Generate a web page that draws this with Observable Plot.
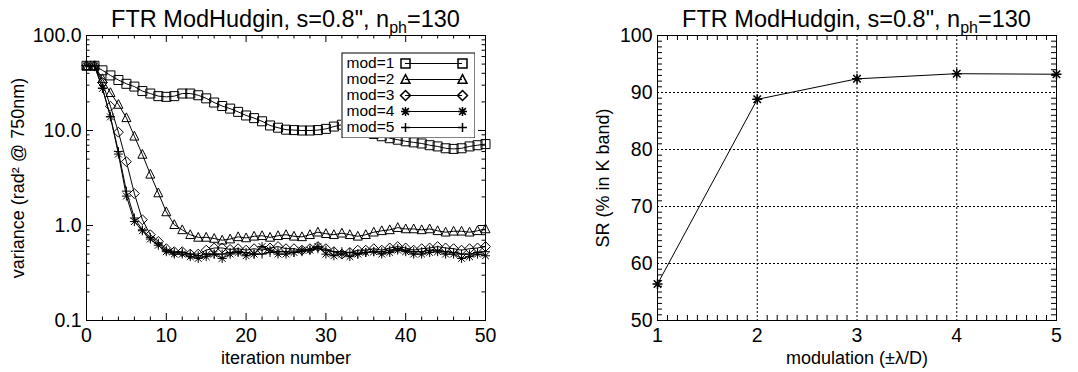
<!DOCTYPE html>
<html><head><meta charset="utf-8">
<script src="https://cdn.jsdelivr.net/npm/d3@7"></script>
<script src="https://cdn.jsdelivr.net/npm/@observablehq/plot@0.6"></script>
<style>
body{margin:0;background:#fff;font-family:"Liberation Sans",Arial,Helvetica,sans-serif;color:#000;}
#wrap{position:relative;width:1078px;height:372px;display:flex;overflow:hidden;}
.panel{position:relative;width:539px;height:372px;}
.panel svg{position:absolute;left:0;top:0;}
.title{position:absolute;top:5px;font-size:23.5px;white-space:nowrap;transform:translateX(-50%);line-height:28px;}
.title sub{font-size:16px;vertical-align:-6px;line-height:0;}
</style></head><body>
<div id="wrap"><div class="panel" id="p1"></div><div class="panel" id="p2"></div></div>
<script>
// ---------- data ----------
const iterations = [0,1,2,3,4,5,6,7,8,9,10,11,12,13,14,15,16,17,18,19,20,21,22,23,24,25,26,27,28,29,30,31,32,33,34,35,36,37,38,39,40,41,42,43,44,45,46,47,48,49,50];
const seriesNames = ["mod=1","mod=2","mod=3","mod=4","mod=5"];
const mod1 = [48,48,43,38,34,31,29,26,24.5,23,22.6,23,24.5,24.5,23.5,21.8,19.7,18.1,17,15.7,14.4,13.5,12.5,11.3,10.7,10.2,10.1,10,10,10.1,10.4,11,11.5,11.2,10.5,9.8,9.2,8.7,8.3,8,7.7,7.5,7.3,7,6.8,6.5,6.4,6.5,6.8,7,7.2];
const mod2 = [48,48,35,25,18.8,13.6,8.7,5.6,3.46,2.2,1.39,1.02,0.9,0.8,0.75,0.75,0.73,0.7,0.72,0.76,0.74,0.77,0.78,0.75,0.78,0.8,0.77,0.76,0.8,0.85,0.82,0.8,0.83,0.8,0.77,0.8,0.85,0.88,0.9,0.95,0.92,0.92,0.9,0.92,0.88,0.85,0.87,0.87,0.85,0.88,0.92];
const mod3 = [48,48,32,18,9.6,4.7,2.17,1.15,0.8,0.68,0.57,0.53,0.53,0.5,0.5,0.55,0.58,0.58,0.56,0.57,0.55,0.57,0.55,0.58,0.6,0.57,0.57,0.55,0.57,0.6,0.57,0.53,0.5,0.52,0.55,0.55,0.57,0.55,0.58,0.6,0.58,0.55,0.57,0.58,0.6,0.58,0.57,0.55,0.57,0.58,0.6];
const mod4 = [48,48,27.7,13.9,5.65,2.04,1.1,0.88,0.72,0.62,0.53,0.5,0.5,0.47,0.45,0.47,0.5,0.45,0.5,0.52,0.48,0.5,0.6,0.55,0.5,0.5,0.52,0.55,0.55,0.6,0.5,0.48,0.5,0.47,0.5,0.52,0.53,0.5,0.52,0.55,0.53,0.5,0.5,0.52,0.53,0.5,0.5,0.45,0.47,0.5,0.48];
const mod5 = [48,48,28,14,6,2.3,1.2,0.9,0.75,0.65,0.55,0.52,0.52,0.5,0.48,0.5,0.5,0.5,0.52,0.53,0.52,0.5,0.5,0.52,0.53,0.53,0.52,0.53,0.55,0.57,0.55,0.53,0.53,0.52,0.5,0.52,0.53,0.53,0.55,0.57,0.55,0.53,0.53,0.55,0.55,0.53,0.52,0.5,0.5,0.52,0.53];
const modulation = [1,2,3,4,5];
const strehl = [56.4,88.8,92.4,93.3,93.2];

const titleHTML = 'FTR ModHudgin, s=0.8", n<sub>ph</sub>=130';
const xLabelL = "iteration number";
const yLabelL = "variance (rad\u00B2 @ 750nm)";
const xLabelR = "modulation (\u00B1\u03BB/D)";
const yLabelR = "SR (% in K band)";

const xMajorL = [0,10,20,30,40,50];
const xMinorL = [2,4,6,8,12,14,16,18,22,24,26,28,32,34,36,38,42,44,46,48];
const yMajorL = [0.1,1,10,100];
const yMajorLabelsL = ["0.1","1.0","10.0","100.0"];
const yMinorL = [0.2,0.3,0.4,0.5,0.6,0.7,0.8,0.9,2,3,4,5,6,7,8,9,20,30,40,50,60,70,80,90];

const xMajorR = [1,2,3,4,5];
const xMinorR = [1.1,1.2,1.3,1.4,1.5,1.6,1.7,1.8,1.9,2.1,2.2,2.3,2.4,2.5,2.6,2.7,2.8,2.9,3.1,3.2,3.3,3.4,3.5,3.6,3.7,3.8,3.9,4.1,4.2,4.3,4.4,4.5,4.6,4.7,4.8,4.9];
const yMajorR = [50,60,70,80,90,100];
const yMinorR = [51,52,53,54,55,56,57,58,59,61,62,63,64,65,66,67,68,69,71,72,73,74,75,76,77,78,79,81,82,83,84,85,86,87,88,89,91,92,93,94,95,96,97,98,99];
const xGridR = [2,3,4];
const yGridR = [60,70,80,90];

// ---------- symbols (IDL-like, hollow) ----------
const rad = s => Math.sqrt(s / Math.PI);
const symSquare = {draw(c, s){const r=rad(s);c.moveTo(-r,-r);c.lineTo(r,-r);c.lineTo(r,r);c.lineTo(-r,r);c.closePath();}};
const symTriangle = {draw(c, s){const r=rad(s);c.moveTo(0,-r*1.1);c.lineTo(r,r*0.85);c.lineTo(-r,r*0.85);c.closePath();}};
const symDiamond = {draw(c, s){const r=rad(s)*1.1;c.moveTo(0,-r);c.lineTo(r,0);c.lineTo(0,r);c.lineTo(-r,0);c.closePath();}};
const symAsterisk = {draw(c, s){const r=rad(s);const d=r*0.75;c.moveTo(0,-r);c.lineTo(0,r);c.moveTo(-r,0);c.lineTo(r,0);c.moveTo(-d,-d);c.lineTo(d,d);c.moveTo(-d,d);c.lineTo(d,-d);}};
const symPlus = {draw(c, s){const r=rad(s);c.moveTo(0,-r);c.lineTo(0,r);c.moveTo(-r,0);c.lineTo(r,0);}};
const symbolsL = [symSquare, symTriangle, symDiamond, symAsterisk, symPlus];

const seriesValues = [mod1, mod2, mod3, mod4, mod5];
const table = seriesNames.flatMap((name, k) => iterations.map((it, i) => ({series: name, k, iter: it, v: seriesValues[k][i]})));
const tableR = modulation.map((m, i) => ({m, sr: strehl[i]}));

const FONT = '"Liberation Sans", Arial, Helvetica, sans-serif';
const baseStyle = {fontFamily: FONT, fontSize: "18px", color: "black", background: "white", overflow: "visible"};
const TICK_FONT = 19.5;
const SYM_R = 4.5;

// ---------- left chart ----------
const WL = 539, HL = 372, mL = {l: 86, r: 54, t: 35, b: 52};
const pwL = WL - mL.l - mL.r, phL = HL - mL.t - mL.b;
const majL = 7, minL = 3.5;
const ymap = new Map(yMajorL.map((d,i) => [d, yMajorLabelsL[i]]));

const left = Plot.plot({
  width: WL, height: HL,
  marginLeft: mL.l, marginRight: mL.r, marginTop: mL.t, marginBottom: mL.b,
  style: baseStyle,
  x: {domain: [0, 50]},
  y: {type: "log", domain: [0.1, 100]},
  marks: [
    Plot.line(table, {x: "iter", y: "v", z: "series", stroke: "black", strokeWidth: 1}),
    ...symbolsL.map((sym, k) => Plot.dot(table.filter(d => d.k === k), {x: "iter", y: "v", symbol: sym, r: SYM_R, fill: "none", stroke: "black", strokeWidth: 1})),
    // ticks (inward, all four sides)
    Plot.ruleX(xMajorL, {x: d => d, insetTop: phL - majL, stroke: "black"}),
    Plot.ruleX(xMajorL, {x: d => d, insetBottom: phL - majL, stroke: "black"}),
    Plot.ruleX(xMinorL, {x: d => d, insetTop: phL - minL, stroke: "black"}),
    Plot.ruleX(xMinorL, {x: d => d, insetBottom: phL - minL, stroke: "black"}),
    Plot.ruleY(yMajorL, {y: d => d, insetRight: pwL - majL, stroke: "black"}),
    Plot.ruleY(yMajorL, {y: d => d, insetLeft: pwL - majL, stroke: "black"}),
    Plot.ruleY(yMinorL, {y: d => d, insetRight: pwL - minL, stroke: "black"}),
    Plot.ruleY(yMinorL, {y: d => d, insetLeft: pwL - minL, stroke: "black"}),
    Plot.axisX({ticks: xMajorL, tickSize: 0, tickPadding: 8, tickFormat: d => String(d), label: null, fontSize: TICK_FONT}),
    Plot.axisY({ticks: yMajorL, tickSize: 0, tickPadding: 5, tickFormat: d => ymap.get(d), label: null, fontSize: TICK_FONT}),
    Plot.text([xLabelL], {text: d => d, frameAnchor: "bottom", dy: 38, lineAnchor: "middle", textAnchor: "middle"}),
    Plot.text([yLabelL], {text: d => d, frameAnchor: "left", rotate: -90, dx: -68, textAnchor: "middle"}),
    Plot.frame({stroke: "black"})
  ]
});
document.getElementById("p1").appendChild(left);

// legend (separate small Plot over the left chart)
const legW = 134, legH = 86;
const legRows = seriesNames.map((name, k) => ({name, k}));
const legend = Plot.plot({
  width: legW, height: legH,
  margin: 0,
  style: {...baseStyle, fontSize: "15.5px", overflow: "hidden"},
  x: {domain: [0, 1], range: [64, 121], axis: null},
  y: {type: "point", domain: seriesNames, range: [11, 75], padding: 0, axis: null},
  marks: [
    Plot.ruleY(legRows, {y: "name", x1: 0, x2: 1, stroke: "black"}),
    ...symbolsL.map((sym, k) => Plot.dot([0, 1], {x: d => d, y: () => seriesNames[k], symbol: sym, r: SYM_R, fill: "none", stroke: "black"})),
    Plot.text(legRows, {y: "name", text: "name", frameAnchor: "left", dx: 5, textAnchor: "start"}),
    Plot.frame({stroke: "black", inset: 0.5})
  ]
});
legend.style.left = "341px"; legend.style.top = "52px"; legend.style.position = "absolute";
document.getElementById("p1").appendChild(legend);

// ---------- right chart ----------
const WR = 539, HR = 372, mR = {l: 118, r: 22, t: 35, b: 52};
const pwR = WR - mR.l - mR.r, phR = HR - mR.t - mR.b;
const minR = 5;
const right = Plot.plot({
  width: WR, height: HR,
  marginLeft: mR.l, marginRight: mR.r, marginTop: mR.t, marginBottom: mR.b,
  style: baseStyle,
  x: {domain: [1, 5]},
  y: {domain: [50, 100]},
  marks: [
    Plot.ruleX(xGridR, {x: d => d, stroke: "black", strokeDasharray: "2,2"}),
    Plot.ruleY(yGridR, {y: d => d, stroke: "black", strokeDasharray: "2,2"}),
    Plot.ruleX(xMinorR, {x: d => d, insetTop: phR - minR, stroke: "black"}),
    Plot.ruleX(xMinorR, {x: d => d, insetBottom: phR - minR, stroke: "black"}),
    Plot.ruleY(yMinorR, {y: d => d, insetRight: pwR - minR, stroke: "black"}),
    Plot.ruleY(yMinorR, {y: d => d, insetLeft: pwR - minR, stroke: "black"}),
    Plot.line(tableR, {x: "m", y: "sr", stroke: "black", strokeWidth: 1}),
    Plot.dot(tableR, {x: "m", y: "sr", symbol: symAsterisk, r: 5, fill: "none", stroke: "black"}),
    Plot.axisX({ticks: xMajorR, tickSize: 0, tickPadding: 8, tickFormat: d => String(d), label: null, fontSize: TICK_FONT}),
    Plot.axisY({ticks: yMajorR, tickSize: 0, tickPadding: 5, tickFormat: d => String(d), label: null, fontSize: TICK_FONT}),
    Plot.text([xLabelR], {text: d => d, frameAnchor: "bottom", dy: 38, lineAnchor: "middle", textAnchor: "middle"}),
    Plot.text([yLabelR], {text: d => d, frameAnchor: "left", rotate: -90, dx: -54, textAnchor: "middle"}),
    Plot.frame({stroke: "black"})
  ]
});
document.getElementById("p2").appendChild(right);

// titles
for (const [id, m, w] of [["p1", mL, WL], ["p2", mR, WR]]) {
  const t = document.createElement("div");
  t.className = "title";
  t.innerHTML = titleHTML;
  t.style.left = (m.l + (w - m.l - m.r) / 2) + "px";
  document.getElementById(id).appendChild(t);
}
</script>
</body></html>
